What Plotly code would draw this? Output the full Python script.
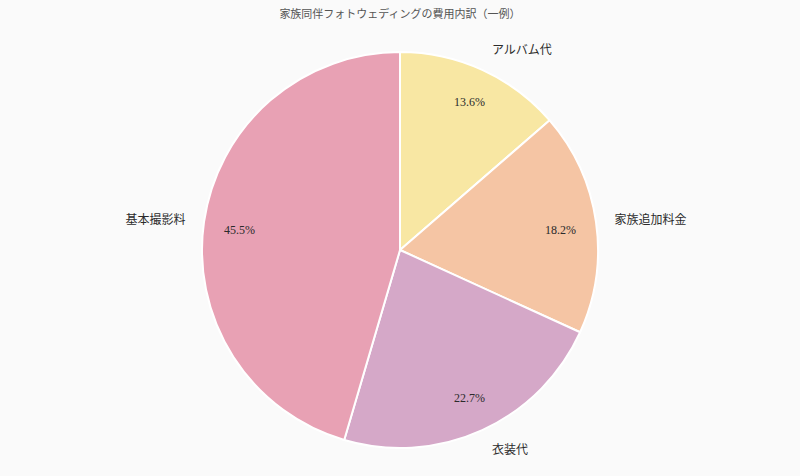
import plotly.graph_objects as go

# 家族同伴フォトウェディングの費用内訳（一例）
labels = ["アルバム代", "家族追加料金", "衣装代", "基本撮影料"]
costs = [30000, 40000, 50000, 100000]
colors = ["#F8E7A3", "#F5C5A4", "#D5A8C8", "#E8A1B4"]

FONT = "Liberation Serif, DejaVu Serif, Noto Sans CJK JP, serif"
W, H = 800, 476
CX, CY = 400, 226  # pie centre, px from the left / bottom


def dom(r, dx=0):
    # domain giving a pie of radius r px centred on (CX + dx, CY)
    half = 300
    return dict(
        x=[(CX + dx - half) / W, (CX + dx + half) / W],
        y=[(CY - r) / H, (CY + r) / H],
    )


def pie(**kw):
    return go.Pie(
        labels=labels,
        values=costs,
        sort=False,
        direction="clockwise",
        rotation=0,
        showlegend=False,
        **kw,
    )


clear = ["rgba(0,0,0,0)"] * len(labels)
pct = "%{percent:.1%}"
txt = dict(family=FONT, size=12, color="#2b2b2b")

fig = go.Figure()

# the slices themselves
fig.add_trace(
    pie(
        domain=dom(198),
        marker=dict(colors=colors, line=dict(color="#ffffff", width=2)),
        textinfo="none",
        hoverinfo="label+value+percent",
    )
)

# percentages sit near the rim: outside text of smaller invisible pies,
# one for the side slices and one for the top / bottom slices
fig.add_trace(
    pie(
        domain=dom(143),
        marker=dict(colors=clear, line=dict(width=0)),
        texttemplate=["", pct, "", pct],
        textposition="outside",
        outsidetextfont=txt,
        hoverinfo="skip",
    )
)
fig.add_trace(
    pie(
        domain=dom(156, dx=-17),
        marker=dict(colors=clear, line=dict(width=0)),
        texttemplate=[pct, "", pct, ""],
        textposition="outside",
        outsidetextfont=txt,
        hoverinfo="skip",
    )
)

# category names: outside text of a slightly larger invisible pie
fig.add_trace(
    pie(
        domain=dom(213),
        marker=dict(colors=clear, line=dict(width=0)),
        textinfo="label",
        textposition="outside",
        outsidetextfont=txt,
        hoverinfo="skip",
    )
)

fig.update_layout(
    width=W,
    height=H,
    margin=dict(l=0, r=0, t=0, b=0),
    paper_bgcolor="#fafafa",
    plot_bgcolor="#fafafa",
    font=txt,
    title=dict(
        text="家族同伴フォトウェディングの費用内訳（一例）",
        x=0.5,
        xanchor="center",
        y=1 - 14 / H,
        yanchor="middle",
        font=dict(family=FONT, size=11, color="#555555"),
    ),
)

fig.write_html(
    "out.html",
    config={"displayModeBar": False},
    post_script="document.body.style.margin = '0';",
)
